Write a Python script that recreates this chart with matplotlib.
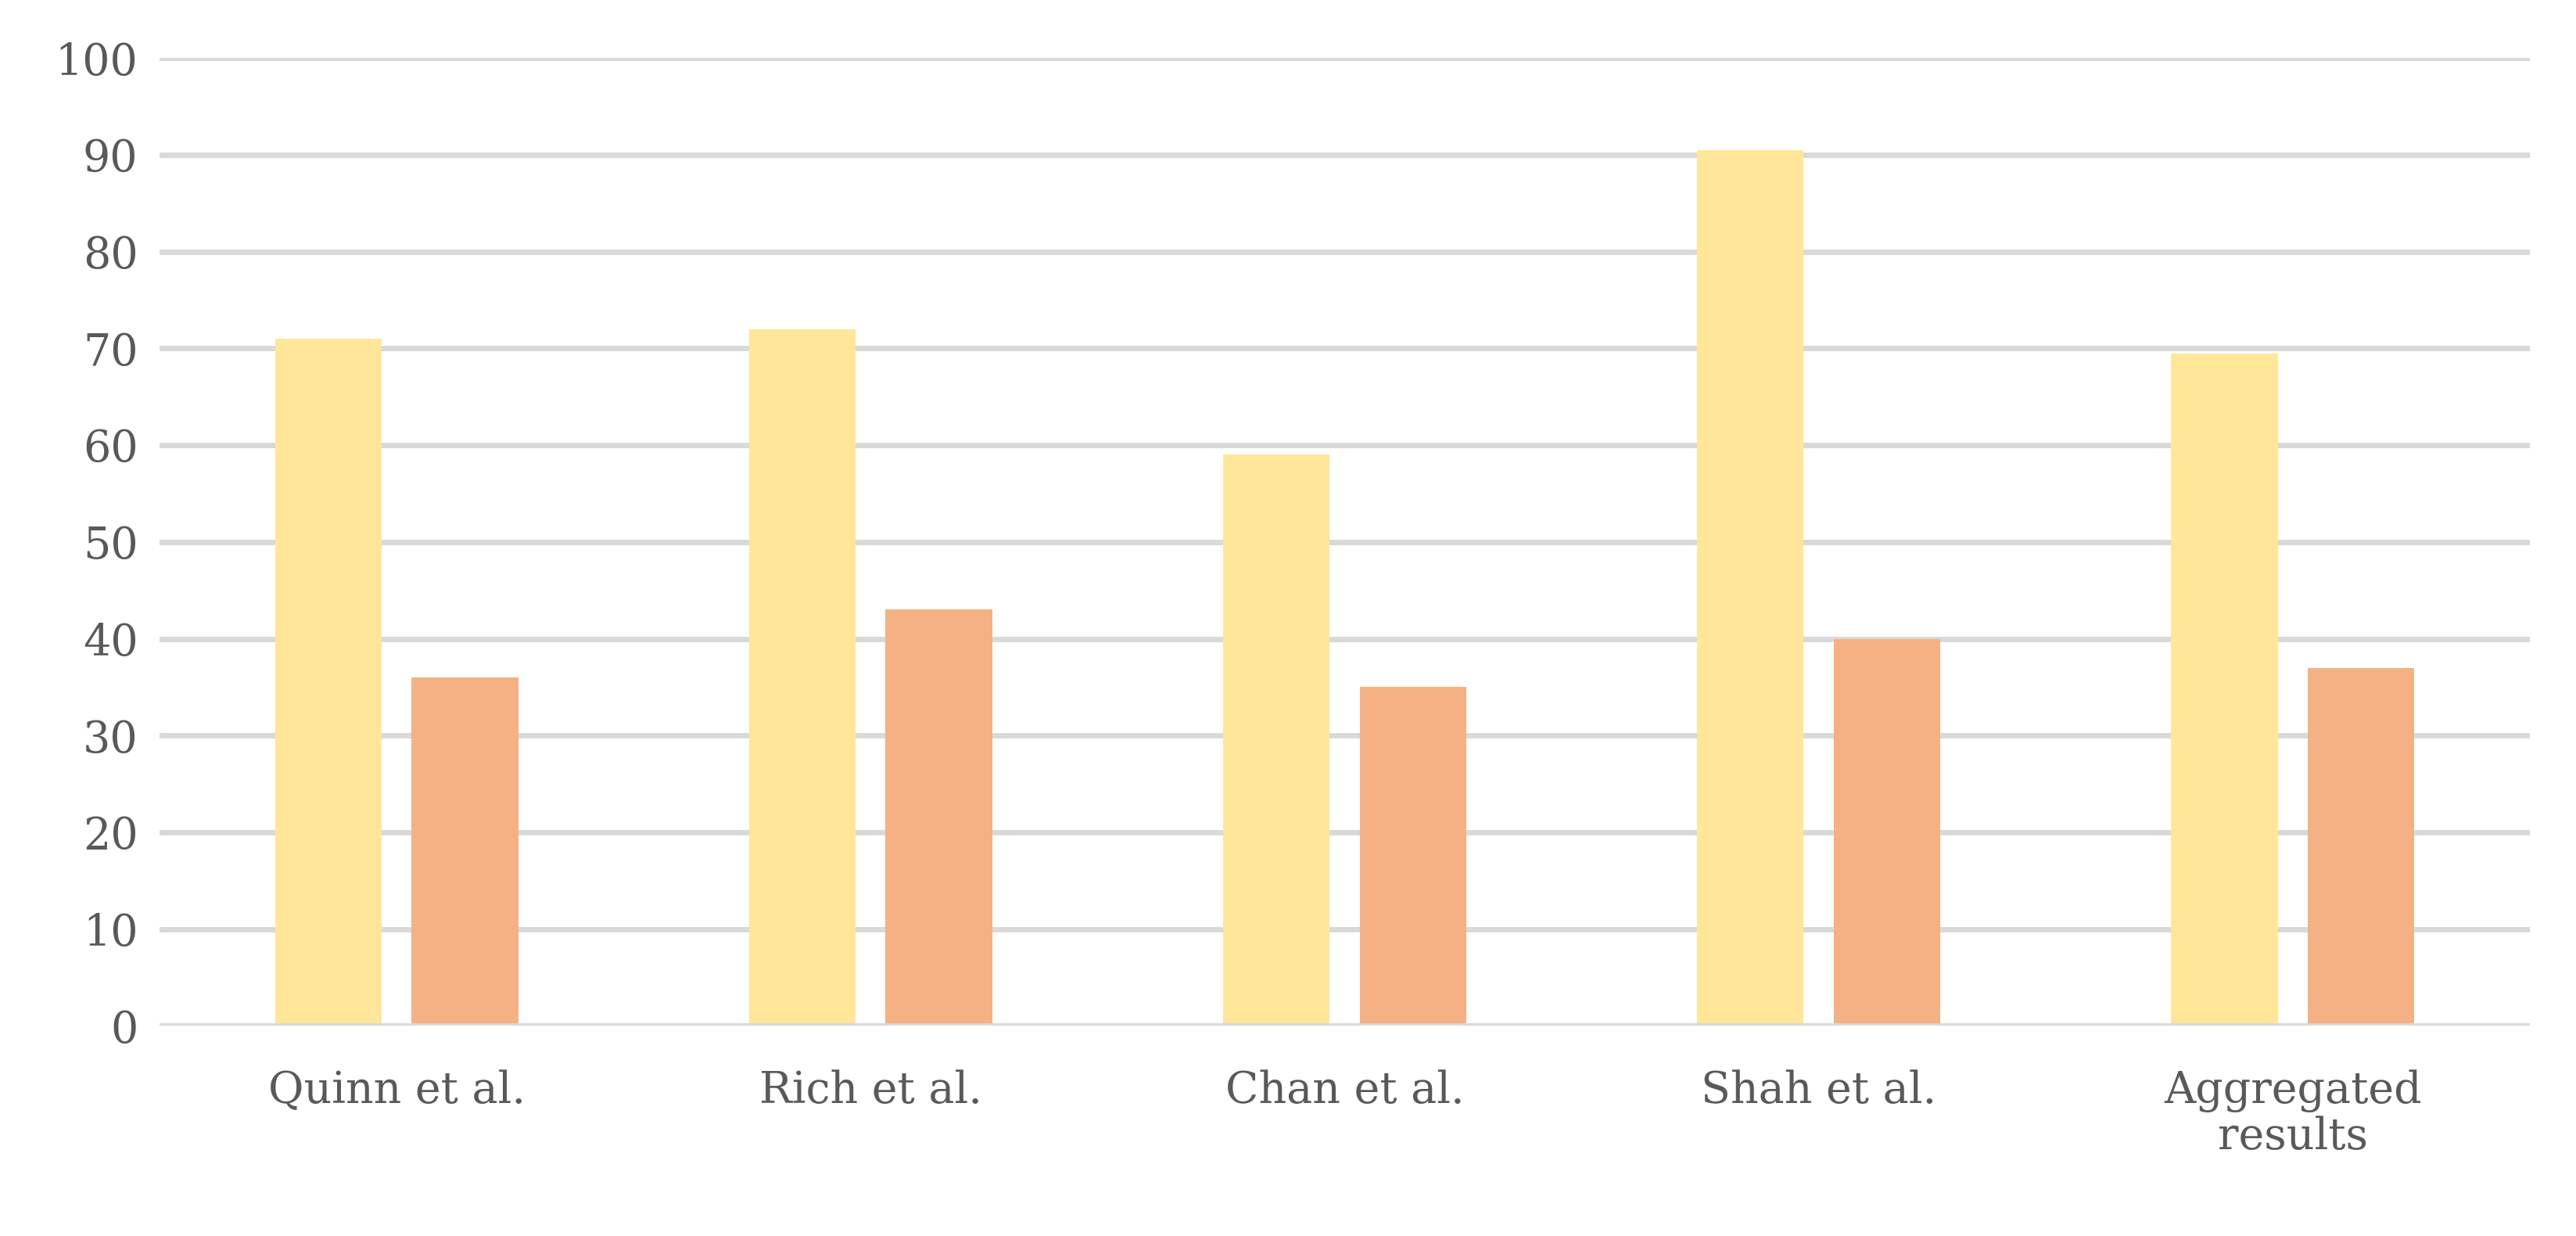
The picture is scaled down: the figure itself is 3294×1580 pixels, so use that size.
import matplotlib
matplotlib.use("Agg")
import matplotlib.pyplot as plt
import numpy as np

categories = ["Quinn et al.", "Rich et al.", "Chan et al.", "Shah et al.", "Aggregated\nresults"]
series_a = [71, 72, 59, 90.5, 69.5]
series_b = [36, 43, 35, 40, 37]
yticks = [0, 10, 20, 30, 40, 50, 60, 70, 80, 90, 100]

fig = plt.figure(figsize=(32.94, 15.80), dpi=100)
ax = fig.add_axes([0.062, 0.170, 0.920, 0.783])
x = np.arange(len(categories))
w = 0.225
ax.bar(x - 0.144, series_a, w, color="#FFE699", zorder=3)
ax.bar(x + 0.144, series_b, w, color="#F4B183", zorder=3)
ax.set_xlim(-0.5, len(categories) - 0.5)
ax.set_ylim(0, 100)
ax.set_yticks(yticks)
ax.yaxis.grid(True, color="#D9D9D9", linewidth=5, zorder=0)
ax.axhline(0, color="#D9D9D9", linewidth=5, zorder=4)
for s in ax.spines.values():
    s.set_visible(False)
ax.tick_params(length=0, labelsize=40, labelcolor="#595959", pad=20)
ax.set_xticks(x)
ax.set_xticklabels(categories, va="top", linespacing=1.1)
for lbl in ax.get_xticklabels() + ax.get_yticklabels():
    lbl.set_family("DejaVu Serif")
ax.tick_params(axis="x", pad=40)
fig.savefig("out.png", dpi=100)
